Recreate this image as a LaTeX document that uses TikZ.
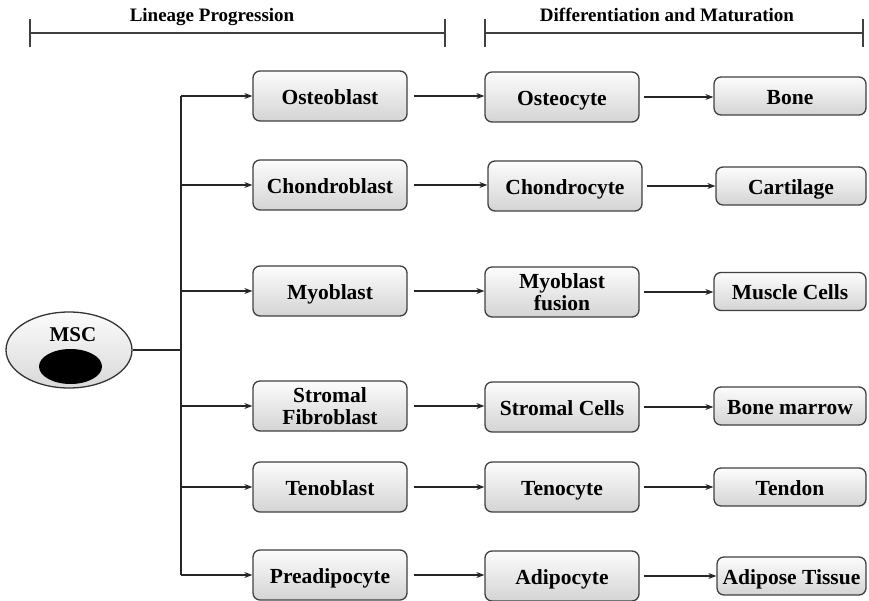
\documentclass[tikz,border=0pt]{standalone}
\usepackage{fontspec}
\setmainfont{Liberation Serif}
\usetikzlibrary{arrows.meta,shapes.geometric}
\begin{document}
\begin{tikzpicture}[x=1pt,y=-1pt,
  box/.style={draw=black!75, line width=1.3pt, rounded corners=7pt,
    top color=gray!2, bottom color=gray!34, minimum width=154pt,
    minimum height=50pt, inner sep=0pt, align=center,
    font=\fontsize{21.5}{22}\selectfont\bfseries},
  one/.style={text height=16.5pt, text depth=0pt},
  endbox/.style={box, one, minimum width=152pt, minimum height=38pt},
  arr/.style={-{Stealth[length=8pt,width=6pt]}, line width=1.1pt, black!85},
  link/.style={line width=1.1pt, black!85},
  bracket/.style={line width=1.5pt, black!75},
  head/.style={font=\fontsize{19}{20}\selectfont\bfseries, anchor=base, inner sep=0pt}]
\useasboundingbox (0,0) rectangle (869,601);

% headers
\node[head] (h1) at (212,22) {Lineage Progression};
\node[head] (h2) at (667,22) {Differentiation and Maturation};
\draw[bracket] (30,33) -- (445,33) (30,19) -- (30,47) (445,19) -- (445,47);
\draw[bracket] (485,33) -- (863,33) (485,19) -- (485,47) (863,19) -- (863,47);

% MSC
\node[ellipse, draw=black!80, line width=1.3pt, top color=gray!3, bottom color=gray!30,
  minimum width=126pt, minimum height=76pt, inner sep=0pt] (msc) at (69,350) {};
\node[ellipse, fill=black, minimum width=63pt, minimum height=35pt, inner sep=0pt] (nuc) at (70.5,366.5) {};
\node[font=\fontsize{21}{22}\selectfont\bfseries, inner sep=0pt] (msct) at (73,335) {MSC};

% column 1
\node[box, one] (a1) at (330,96) {Osteoblast};
\node[box, one] (a2) at (330,185) {Chondroblast};
\node[box, one] (a3) at (330,291) {Myoblast};
\node[box] (a4) at (330,406) {Stromal\\Fibroblast};
\node[box, one] (a5) at (330,487) {Tenoblast};
\node[box, one] (a6) at (330,575) {Preadipocyte};

% column 2
\node[box, one] (b1) at (562,97) {Osteocyte};
\node[box, one] (b2) at (565,186) {Chondrocyte};
\node[box] (b3) at (562,292) {Myoblast\\fusion};
\node[box, one] (b4) at (562,407) {Stromal Cells};
\node[box, one] (b5) at (562,487) {Tenocyte};
\node[box, one] (b6) at (562,576) {Adipocyte};

% column 3
\node[endbox] (c1) at (790,96) {Bone};
\node[endbox, minimum width=150pt] (c2) at (791,186) {Cartilage};
\node[endbox] (c3) at (790,291.5) {Muscle Cells};
\node[endbox] (c4) at (790,406) {Bone marrow};
\node[endbox] (c5) at (790,487) {Tendon};
\node[endbox, minimum width=149pt] (c6) at (791.5,576) {Adipose Tissue};

% trunk
\coordinate (ttop) at (181,96);
\coordinate (tbot) at (181,575);
\coordinate (tj) at (181,350);
\draw[link] (msc.east) -- (tj);
\draw[link] (ttop) -- (tbot);

\foreach \i in {1,...,6} {
  \draw[arr] (a\i.west -| ttop) -- (a\i.west);
  \draw[arr, shorten <=6pt] (a\i.east) -- (a\i.east -| b\i.west);
  \draw[arr, shorten <=4pt] (b\i.east) -- (b\i.east -| c\i.west);
}
\end{tikzpicture}
\end{document}
